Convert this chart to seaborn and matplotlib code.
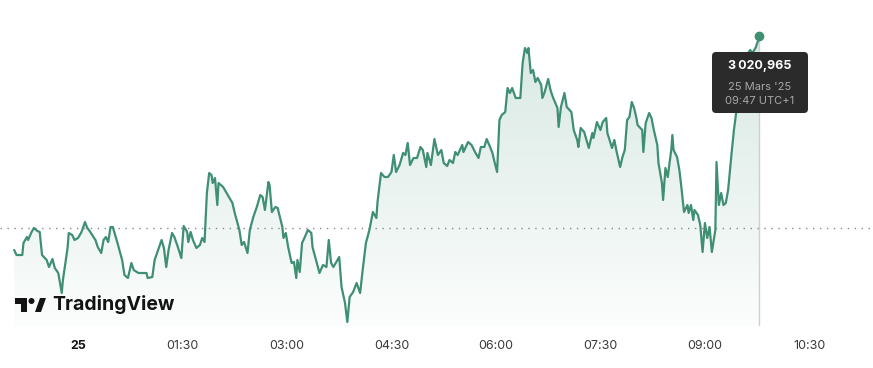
import numpy as np
import pandas as pd
import seaborn as sns
import matplotlib.pyplot as plt
from matplotlib.colors import to_rgb
from matplotlib.patches import FancyBboxPatch, Rectangle, Circle, Polygon
from matplotlib.transforms import IdentityTransform

# minutes since 00:00 on 25 March (negative = evening of the 24th)
minutes = [-55, -53, -48, -47, -44, -43, -40, -38, -35, -33, -31, -27, -25, -22, -20, -17, -14, -13, -9, -8,
           -5, -3, 0, 3, 6, 8, 10, 15, 17, 20, 22, 24, 26, 28, 30, 32, 34, 38, 40, 43,
           46, 48, 52, 56, 59, 60, 64, 66, 69, 72, 74, 76, 78, 81, 83, 86, 89, 91, 94, 95,
           97, 99, 102, 105, 107, 109, 111, 113, 115, 116, 118, 120, 121, 125, 128, 133, 135, 139, 141, 143,
           146, 148, 151, 154, 157, 159, 161, 164, 165, 167, 170, 172, 176, 177, 179, 181, 184, 186, 188, 189,
           191, 193, 195, 198, 201, 202, 205, 208, 211, 214, 216, 218, 220, 225, 227, 230, 232, 234, 237, 240,
           243, 245, 248, 251, 254, 257, 258, 261, 264, 267, 270, 272, 274, 277, 280, 282, 284, 286, 289, 292,
           295, 297, 300, 301, 304, 307, 310, 313, 315, 318, 320, 323, 325, 327, 331, 332, 336, 339, 342, 345,
           347, 350, 352, 355, 357, 359, 361, 363, 365, 368, 370, 372, 374, 377, 381, 383, 385, 387, 388, 390,
           392, 394, 396, 399, 400, 402, 405, 407, 409, 413, 414, 416, 419, 421, 425, 427, 430, 431, 433, 436,
           438, 440, 443, 444, 447, 450, 452, 455, 456, 460, 462, 464, 467, 469, 471, 473, 475, 477, 479, 481,
           482, 486, 487, 489, 492, 494, 496, 499, 500, 503, 504, 506, 508, 511, 512, 513, 516, 518, 520, 522,
           525, 526, 528, 530, 531, 534, 536, 538, 540, 542, 544, 546, 549, 550, 552, 554, 556, 558, 560, 563,
           565, 568, 569, 572, 575, 579, 581, 584, 585, 587]

prices = [2999.8, 2999.3, 2999.3, 3000.5, 3001.1, 3000.8, 3001.6, 3002.0, 3001.7, 3001.6, 2999.3, 2998.8, 2998.1, 2998.9, 2998.0, 2997.5, 2995.5, 2996.8, 3000.0, 3001.5,
          3001.3, 3000.8, 3001.0, 3001.6, 3002.6, 3002.0, 3001.7, 3000.8, 3000.1, 2999.5, 3000.8, 3001.1, 3000.6, 3002.1, 3002.1, 3001.3, 3000.5, 2998.8, 2997.3, 2997.0,
          2998.5, 2997.8, 2997.5, 2997.5, 2997.5, 2997.0, 2997.1, 2998.8, 2999.8, 3000.8, 3000.0, 2998.1, 2999.8, 3001.5, 3001.1, 3000.1, 2999.0, 3002.2, 3001.6, 3000.6,
          3001.6, 3000.8, 3000.0, 3000.3, 3001.0, 3000.6, 3005.5, 3007.5, 3007.3, 3006.5, 3007.0, 3004.3, 3006.5, 3006.1, 3005.5, 3004.5, 3003.5, 3001.8, 3000.3, 3000.6,
          2999.5, 3001.8, 3003.1, 3004.1, 3005.3, 3005.1, 3003.8, 3006.6, 3006.3, 3003.6, 3004.1, 3004.0, 3002.1, 3001.0, 3001.5, 3000.1, 2998.5, 2998.6, 2997.0, 2998.8,
          2997.6, 3000.5, 3001.0, 3001.8, 3001.5, 3000.1, 2998.8, 2997.5, 2998.3, 2998.1, 3000.8, 2998.5, 2998.1, 2999.1, 2996.1, 2994.5, 2992.6, 2995.1, 2995.6, 2996.5,
          2995.5, 2997.6, 3000.5, 3001.8, 3003.6, 3003.0, 3004.6, 3007.5, 3007.1, 3007.1, 3007.6, 3009.3, 3007.6, 3008.3, 3009.5, 3009.3, 3010.5, 3008.3, 3009.0, 3009.0,
          3010.1, 3009.8, 3008.1, 3009.5, 3008.3, 3010.9, 3009.3, 3009.8, 3008.5, 3008.2, 3008.8, 3008.5, 3009.6, 3009.3, 3010.3, 3009.6, 3010.6, 3010.3, 3009.6, 3009.0,
          3010.1, 3010.1, 3010.9, 3010.1, 3009.5, 3008.5, 3007.6, 3012.8, 3013.3, 3013.6, 3016.0, 3015.5, 3016.0, 3015.0, 3015.0, 3018.5, 3020.0, 3019.5, 3020.0, 3017.5,
          3017.8, 3016.6, 3017.0, 3016.3, 3015.0, 3015.6, 3016.9, 3015.8, 3015.1, 3014.0, 3012.1, 3014.1, 3015.5, 3014.1, 3013.6, 3011.8, 3010.8, 3010.1, 3012.0, 3011.6,
          3010.8, 3010.0, 3011.5, 3011.0, 3012.6, 3011.8, 3012.6, 3013.0, 3011.5, 3010.0, 3010.8, 3009.6, 3008.1, 3009.1, 3009.8, 3012.8, 3013.1, 3014.6, 3014.0, 3013.0,
          3012.3, 3011.8, 3009.6, 3012.5, 3013.5, 3013.0, 3011.8, 3010.3, 3008.5, 3006.5, 3004.8, 3008.0, 3007.1, 3009.8, 3011.3, 3009.8, 3009.1, 3007.8, 3005.8, 3003.6,
          3004.3, 3003.5, 3004.3, 3002.8, 3003.8, 3003.3, 3002.3, 2999.6, 3002.5, 3001.0, 3002.1, 2999.6, 3001.8, 3008.6, 3004.3, 3005.5, 3004.3, 3004.5, 3005.8, 3009.5,
          3011.8, 3014.5, 3017.5, 3018.5, 3019.1, 3019.8, 3019.5, 3020.1, 3020.5, 3020.965]

prev_close = 3002.0
tick_minutes = [0, 90, 180, 270, 360, 450, 540, 630]
tick_labels = ['25', '01:30', '03:00', '04:30', '06:00', '07:30', '09:00', '10:30']
tip_value = '3\u2009020,965'
tip_date = "25 Mars '25"
tip_time = '09:47 UTC+1'

df = pd.DataFrame({'minute': minutes, 'price': prices})

sns.set_style('white')
plt.rcParams['font.family'] = ['Inter', 'DejaVu Sans']

green = '#3f8f72'
W, H = 873, 368
fig = plt.figure(figsize=(W / 100, H / 100), dpi=100)
ax = fig.add_axes([0, 42 / H, 1, 326 / H])
ybot, ytop = 2992.2, 3024.8
ax.set_xlim(-67.2, 684.8)
ax.set_ylim(ybot, ytop)

# gradient area under the line
poly = ax.fill_between(df.minute, df.price, ybot, color='none', lw=0)
rgba = np.zeros((256, 1, 4))
rgba[..., :3] = to_rgb(green)
rgba[..., 3] = np.linspace(0.02, 0.2, 256)[:, None]
img = ax.imshow(rgba, aspect='auto', origin='lower', interpolation='bilinear',
                extent=[df.minute.min(), df.minute.max(), ybot, df.price.max()], zorder=1)
img.set_clip_path(poly.get_paths()[0], transform=ax.transData)
ax.set_xlim(-67.2, 684.8)
ax.set_ylim(ybot, ytop)

ax.axhline(prev_close, color='#8a8a8a', lw=1, ls=(0, (1, 4)), zorder=2)
ax.vlines(df.minute.iloc[-1], ybot, df.price.iloc[-1], color='#cfcfcf', lw=1, zorder=2)

sns.lineplot(data=df, x='minute', y='price', ax=ax, color=green, lw=1.6, zorder=3)
ax.plot(df.minute.iloc[-1], df.price.iloc[-1] + 0.2, 'o', color=green, ms=6, zorder=4)

ax.set_xlabel('')
ax.set_ylabel('')
ax.set_yticks([])
ax.set_xticks(tick_minutes)
ax.set_xticklabels(tick_labels, fontsize=9, color='#3a3a3a')
ax.get_xticklabels()[0].set_fontweight('bold')
ax.get_xticklabels()[0].set_color('#131313')
ax.tick_params(axis='x', length=0, pad=10)
for s in ax.spines.values():
    s.set_visible(False)
ax.patch.set_alpha(0)

# tooltip
ident = IdentityTransform()
box = FancyBboxPatch((712, H - 113), 96, 61, boxstyle='round,pad=0,rounding_size=4',
                     transform=ident, facecolor='#2b2b2b', edgecolor='none', zorder=10)
fig.add_artist(box)
fig.text(760 / W, 1 - 66 / H, tip_value, color='white', fontsize=9, fontweight='bold',
         ha='center', va='center', zorder=11)
fig.text(760 / W, 1 - 87 / H, tip_date, color='#a8a8a8', fontsize=8, ha='center', va='center', zorder=11)
fig.text(760 / W, 1 - 101 / H, tip_time, color='#a8a8a8', fontsize=8, ha='center', va='center', zorder=11)

# TradingView logo
logo = [Rectangle((15, H - 304), 12, 6), Rectangle((21, H - 312), 6, 14),
        Circle((31.5, H - 301), 3),
        Polygon([(35, H - 312), (40, H - 298), (46, H - 298), (41, H - 312)])]
for p in logo:
    p.set_transform(ident)
    p.set_facecolor('#131313')
    p.set_edgecolor('none')
    p.set_zorder(10)
    fig.add_artist(p)
fig.text(52 / W, 1 - 305 / H, 'TradingView', color='#131313', fontsize=14, fontweight='bold',
         ha='left', va='center', zorder=11)

fig.savefig('out.png', dpi=100)
